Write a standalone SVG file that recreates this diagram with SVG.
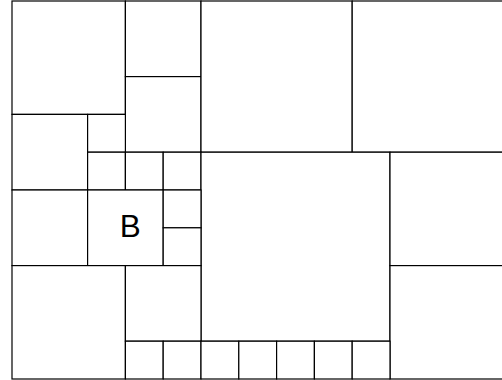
<svg xmlns="http://www.w3.org/2000/svg" width="502" height="380" viewBox="0 0 502 380">
<style>
rect{fill:#fff;stroke:#000;stroke-width:1.2}
text{font-family:"Liberation Sans",Arial,sans-serif;font-size:31px;fill:#000}
</style>
<rect x="0" y="0" width="502" height="380" style="stroke:none"/>
<g id="n1"><rect x="12" y="1" width="113.4" height="113.4"/></g>
<g id="n2"><rect x="125.4" y="1" width="75.6" height="75.6"/></g>
<g id="n3"><rect x="125.4" y="76.6" width="75.6" height="75.6"/></g>
<g id="n4"><rect x="201" y="1" width="151.2" height="151.2"/></g>
<g id="n5"><rect x="352.2" y="1" width="151.2" height="151.2"/></g>
<g id="n6"><rect x="12" y="114.4" width="75.6" height="75.6"/></g>
<g id="n7"><rect x="87.6" y="114.4" width="37.8" height="37.8"/></g>
<g id="n8"><rect x="87.6" y="152.2" width="37.8" height="37.8"/></g>
<g id="n9"><rect x="125.4" y="152.2" width="37.8" height="37.8"/></g>
<g id="n10"><rect x="163.2" y="152.2" width="37.8" height="37.8"/></g>
<g id="n11"><rect x="201" y="152.2" width="189" height="189"/></g>
<g id="n12"><rect x="390" y="152.2" width="113.4" height="113.4"/></g>
<g id="n13"><rect x="390" y="265.6" width="113.4" height="113.4"/></g>
<g id="n14"><rect x="12" y="190" width="75.6" height="75.6"/></g>
<g id="B"><rect x="87.6" y="190" width="75.6" height="75.6"/><text x="119.7" y="236.7" textLength="21" lengthAdjust="spacingAndGlyphs">B</text></g>
<g id="n16"><rect x="163.2" y="190" width="37.8" height="37.8"/></g>
<g id="n17"><rect x="163.2" y="227.8" width="37.8" height="37.8"/></g>
<g id="n18"><rect x="12" y="265.6" width="113.4" height="113.4"/></g>
<g id="n19"><rect x="125.4" y="265.6" width="75.6" height="75.6"/></g>
<g id="n20"><rect x="125.4" y="341.2" width="37.8" height="37.8"/></g>
<g id="n21"><rect x="163.2" y="341.2" width="37.8" height="37.8"/></g>
<g id="n22"><rect x="201" y="341.2" width="37.8" height="37.8"/></g>
<g id="n23"><rect x="238.8" y="341.2" width="37.8" height="37.8"/></g>
<g id="n24"><rect x="276.6" y="341.2" width="37.8" height="37.8"/></g>
<g id="n25"><rect x="314.4" y="341.2" width="37.8" height="37.8"/></g>
<g id="n26"><rect x="352.2" y="341.2" width="37.8" height="37.8"/></g>
<g id="connectors"></g>
</svg>
